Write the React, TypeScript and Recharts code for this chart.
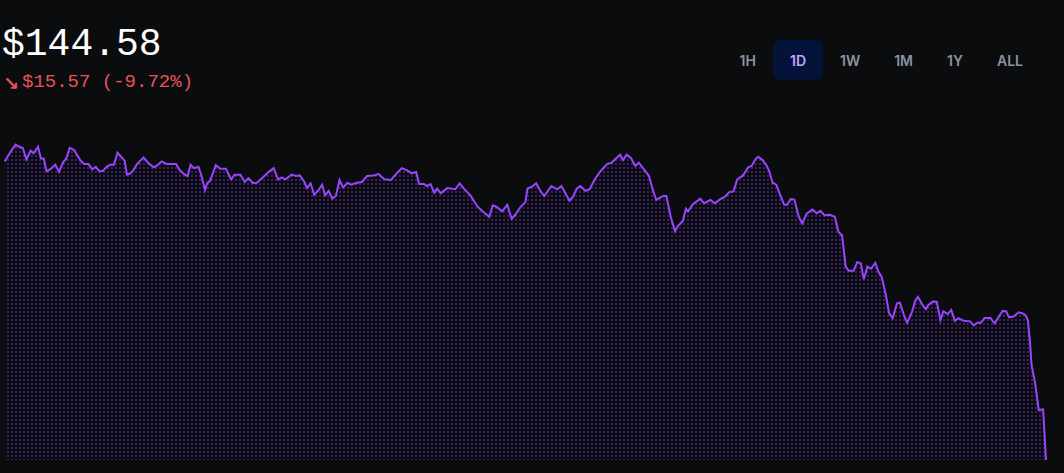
import { Area, AreaChart, XAxis, YAxis } from 'recharts';

// minutes since the start of the day window
const times = [
  0, 7, 15, 18, 25, 30, 36, 40, 46, 50, 54, 58, 64, 70, 75, 81, 85, 90, 96, 100,
  105, 110, 116, 121, 126, 131, 136, 141, 146, 151, 156, 160, 166, 169, 174, 178, 183, 192, 199, 206,
  210, 217, 224, 231, 237, 242, 249, 253, 257, 262, 268, 272, 277, 280, 284, 292, 298, 306, 313, 318,
  326, 332, 337, 343, 348, 358, 366, 372, 378, 383, 388, 397, 403, 408, 414, 418, 423, 428, 434, 439,
  443, 448, 453, 458, 463, 468, 474, 479, 487, 494, 501, 510, 517, 525, 534, 541, 549, 556, 563, 569,
  573, 580, 584, 589, 594, 598, 603, 612, 623, 629, 635, 644, 654, 662, 670, 675, 680, 688, 695, 701,
  706, 713, 720, 723, 729, 735, 740, 746, 756, 764, 770, 781, 786, 791, 796, 803, 809, 816, 823, 833,
  839, 851, 855, 860, 866, 872, 877, 884, 891, 895, 901, 905, 911, 915, 921, 927, 931, 938, 942, 945,
  952, 962, 967, 976, 982, 989, 996, 1002, 1008, 1013, 1021, 1028, 1033, 1038, 1042, 1048, 1054, 1057, 1062, 1067,
  1072, 1078, 1082, 1087, 1092, 1098, 1103, 1109, 1117, 1123, 1128, 1134, 1141, 1148, 1153, 1158, 1163, 1167, 1174, 1179,
  1184, 1188, 1193, 1198, 1204, 1208, 1213, 1219, 1223, 1228, 1234, 1238, 1244, 1248, 1255, 1259, 1263, 1270, 1274, 1277,
  1284, 1289, 1294, 1298, 1304, 1309, 1314, 1319, 1326, 1335, 1340, 1345, 1350, 1355, 1363, 1369, 1376, 1380, 1385, 1389,
  1395, 1402, 1408, 1412, 1415, 1418, 1420, 1425, 1430, 1436, 1440,
];

const prices = [
  160.12, 160.57, 161.0, 160.93, 160.83, 160.24, 160.69, 160.55, 160.89, 160.29, 160.27, 159.61, 159.75, 159.96, 159.58, 160.1, 160.27, 160.83, 160.72, 160.48,
  160.16, 159.99, 159.99, 159.72, 159.85, 159.61, 159.64, 159.85, 159.96, 159.96, 160.58, 160.41, 160.16, 159.44, 159.51, 159.68, 159.99, 160.34, 160.03, 159.82,
  159.89, 160.13, 159.99, 159.99, 159.99, 159.68, 159.44, 159.37, 159.96, 159.78, 159.85, 159.4, 158.64, 158.99, 159.12, 159.93, 159.75, 159.75, 159.2, 159.44,
  159.44, 159.06, 159.26, 159.02, 158.99, 159.33, 159.61, 159.78, 159.2, 159.3, 159.2, 159.44, 159.37, 159.4, 159.09, 158.74, 158.99, 158.39, 158.64, 158.92,
  158.36, 158.6, 158.19, 158.33, 159.16, 158.78, 159.02, 158.92, 159.02, 159.06, 159.37, 159.4, 159.47, 159.2, 159.16, 159.47, 159.78, 159.68, 159.51, 159.58,
  158.95, 158.95, 158.85, 158.95, 158.5, 158.71, 158.47, 158.74, 158.68, 158.99, 158.71, 158.36, 157.77, 157.49, 157.25, 157.84, 157.77, 157.53, 157.87, 157.14,
  157.35, 157.74, 158.01, 158.72, 158.81, 158.99, 158.64, 158.33, 158.85, 158.68, 158.85, 158.08, 158.29, 158.71, 158.85, 158.6, 158.68, 159.2, 159.58, 159.99,
  160.06, 160.48, 160.2, 160.48, 160.31, 159.89, 160.06, 159.72, 159.37, 158.81, 158.12, 158.22, 158.33, 158.33, 157.25, 156.49, 156.76, 157.04, 157.67, 157.53,
  157.91, 158.19, 157.95, 158.12, 157.95, 158.15, 158.29, 158.53, 158.57, 159.2, 159.4, 159.82, 159.89, 160.24, 160.37, 160.2, 159.89, 159.64, 159.02, 158.92,
  158.43, 157.87, 157.87, 158.17, 158.14, 157.27, 156.9, 157.41, 157.63, 157.43, 157.56, 157.32, 157.35, 157.25, 156.45, 156.28, 154.65, 154.44, 154.44, 154.89,
  154.82, 153.99, 154.65, 154.54, 154.85, 154.41, 154.09, 153.08, 152.22, 151.97, 152.74, 152.77, 152.08, 151.73, 152.32, 152.87, 153.08, 152.6, 152.43, 152.64,
  152.84, 152.81, 151.87, 152.32, 152.18, 152.39, 151.83, 151.97, 151.83, 151.8, 151.59, 151.73, 151.73, 151.97, 151.97, 151.7, 152.11, 152.35, 152.32, 152.01,
  152.05, 152.27, 152.21, 152.11, 151.84, 150.66, 149.53, 148.57, 147.18, 147.22, 144.58,
];

const ranges = ['1H', '1D', '1W', '1M', '1Y', 'ALL'];
const activeRange = '1D';

const data = times.map((t, i) => ({ t, price: prices[i] }));

export default function App() {
  return (
    <div
      style={{
        position: 'fixed',
        left: 0,
        top: 0,
        width: 1064,
        height: 473,
        background: '#0b0c0e',
        overflow: 'hidden',
      }}
    >
      <div
        style={{
          position: 'absolute',
          left: 2,
          top: 21,
          fontFamily: '"Liberation Mono", monospace',
          fontSize: 38,
          lineHeight: '48px',
          color: '#ffffff',
        }}
      >
        $144.58
      </div>
      <div
        style={{
          position: 'absolute',
          left: 3,
          top: 71,
          fontFamily: '"DejaVu Sans", sans-serif',
          fontSize: 19,
          lineHeight: '24px',
          color: '#ec5058',
          fontWeight: 700,
        }}
      >
        ↘
      </div>
      <div
        style={{
          position: 'absolute',
          left: 22,
          top: 70,
          fontFamily: '"Liberation Mono", monospace',
          fontSize: 19,
          lineHeight: '24px',
          color: '#ec5058',
        }}
      >
        $15.57 (-9.72%)
      </div>

      <div style={{ position: 'absolute', right: 24, top: 40, display: 'flex' }}>
        {ranges.map((r) => (
          <div
            key={r}
            style={{
              height: 40,
              padding: '0 17px',
              borderRadius: 8,
              display: 'flex',
              alignItems: 'center',
              fontFamily: 'Inter, "Liberation Sans", sans-serif',
              fontSize: 14,
              fontWeight: 600,
              color: r === activeRange ? '#c4a4ff' : '#8b93a1',
              background: r === activeRange ? '#03133a' : 'transparent',
            }}
          >
            {r}
          </div>
        ))}
      </div>

      <div style={{ position: 'absolute', left: 0, top: 0 }}>
        <AreaChart width={1064} height={473} data={data} margin={{ top: 144.7, right: 18, bottom: 13, left: 4.7 }}>
          <defs>
            <pattern id="dotFill" x={3} y={3} width={4} height={4} patternUnits="userSpaceOnUse">
              <rect x={0} y={0} width={2} height={2} fill="#3a216a" />
            </pattern>
          </defs>
          <XAxis dataKey="t" type="number" domain={[0, 1440]} hide />
          <YAxis domain={['dataMin', 'dataMax']} hide />
          <Area
            type="linear"
            dataKey="price"
            stroke="#9945ff"
            strokeWidth={2}
            fill="url(#dotFill)"
            fillOpacity={1}
            dot={false}
            activeDot={false}
            isAnimationActive={false}
          />
        </AreaChart>
      </div>
    </div>
  );
}
